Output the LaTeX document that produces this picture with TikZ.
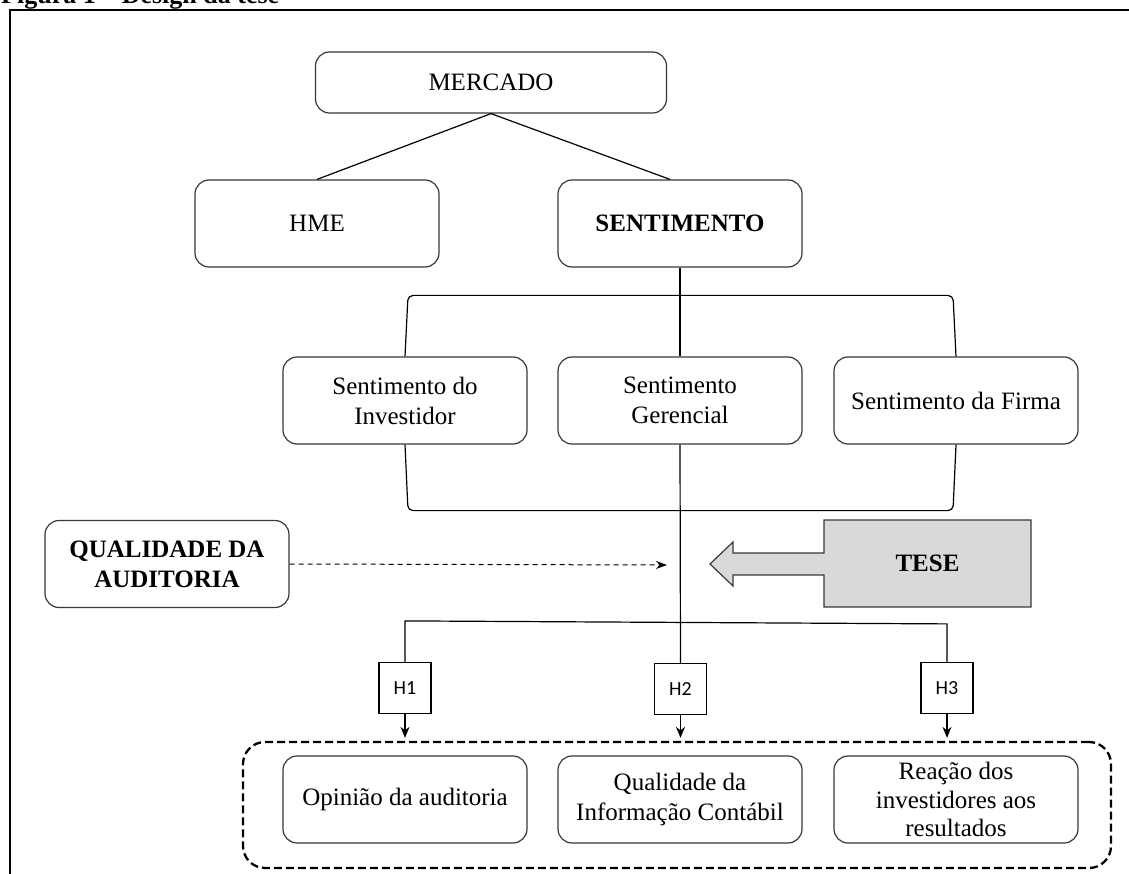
\documentclass[tikz,border=0pt]{standalone}
\usepackage{fontspec}
\setmainfont{Liberation Serif}
\newfontfamily\hfont{Carlito}
\usetikzlibrary{arrows.meta,calc}
\begin{document}
\begin{tikzpicture}[x=1pt,y=-1pt,
  box/.style={draw=black!78, line width=1.2pt, rounded corners=14pt,
    minimum width=244pt, minimum height=87pt, align=center,
    font=\fontsize{25}{30}\selectfont, inner sep=1pt},
  boldbox/.style={box, font=\fontsize{25}{30}\selectfont\bfseries},
  conn/.style={draw=black, line width=1.2pt},
  hbox/.style={draw=black, line width=1.2pt, minimum width=52pt, minimum height=51pt,
    font=\hfont\fontsize{20}{22}\selectfont, fill=white, inner sep=0pt},
  grpbox/.style={draw=black, line width=2.3pt, dash pattern=on 8pt off 4pt,
    rounded corners=22pt, minimum width=868pt, minimum height=126pt},
  tip/.style={-{Stealth[length=11pt,width=9pt]}}
]
\useasboundingbox (0,0) rectangle (1129,874);

% title (cut at the top) and frame
\node[anchor=base west, inner sep=0pt, font=\fontsize{26}{30}\selectfont\bfseries] (title) at (1,3.5) {Figura 1 – Design da tese};
\draw[line width=1.6pt] (10,880) -- (10,10) -- (1135,10);

% nodes
\node[box, minimum width=351pt, minimum height=61pt] (mercado) at (491,82.5) {MERCADO};
\node[box] (hme) at (317,223.5) {HME};
\node[boldbox] (sent) at (680,223.5) {SENTIMENTO};
\node[box] (inv) at (405,400.5) {Sentimento do\\Investidor};
\node[box] (ger) at (680,400.5) {Sentimento\\Gerencial};
\node[box] (firma) at (956,400.5) {Sentimento da Firma};
\node[boldbox] (qa) at (167,564) {QUALIDADE DA\\AUDITORIA};

\node[hbox] (h1) at (405,688) {H1};
\node[hbox] (h2) at (680.5,689) {H2};
\node[hbox] (h3) at (947,688) {H3};

\node[grpbox] (grp) at (677,805) {};
\node[box] (op) at (405,799.5) {Opinião da auditoria};
\node[box] (qi) at (680,799.5) {Qualidade da\\Informação Contábil};
\node[box, font=\fontsize{25}{28.5}\selectfont] (re) at (956,799.5) {Reação dos\\investidores aos\\resultados};

% TESE block arrow
\draw[draw=black!78, line width=1.2pt, fill=gray!30]
  (1031,520) -- (824,520) -- (824,553) -- (733,553) -- (733,542) -- (710,564)
  -- (733,586) -- (733,575) -- (824,575) -- (824,607) -- (1031,607) -- cycle;
\node[font=\fontsize{25}{30}\selectfont\bfseries] (tese) at (927.5,563.5) {TESE};

% connectors
\draw[conn] (mercado.south) -- (hme.north);
\draw[conn] (mercado.south) -- ($(sent.north)+(-10,0)$);
\draw[conn] (sent.south) -- (ger.north);
\draw[conn] (ger.south) -- (h2.north);
\draw[conn, rounded corners=5pt] (inv.north) -- ($(inv.north)+(3,-61)$) -- ($(firma.north)+(-3,-61)$) -- (firma.north);
\draw[conn, rounded corners=5pt] (inv.south) -- ($(inv.south)+(3,66)$) -- ($(firma.south)+(-3,66)$) -- (firma.south);
\draw[conn] (h1.north) -- ($(h1.north)+(0,-41)$) -- ($(h3.north)+(0,-38)$) -- (h3.north);

\coordinate (dend) at (667,565);
\draw[line width=1pt, dash pattern=on 5pt off 4pt, -{Stealth[length=11pt,width=8pt]}] (qa.east) -- (dend);

\draw[conn, tip] (h1.south) -- ($(h1.south |- grp.north)+(0,-3)$);
\draw[conn, tip] (h2.south) -- ($(h2.south |- grp.north)+(0,-3)$);
\draw[conn, tip] (h3.south) -- ($(h3.south |- grp.north)+(0,-3)$);
\end{tikzpicture}
\end{document}
